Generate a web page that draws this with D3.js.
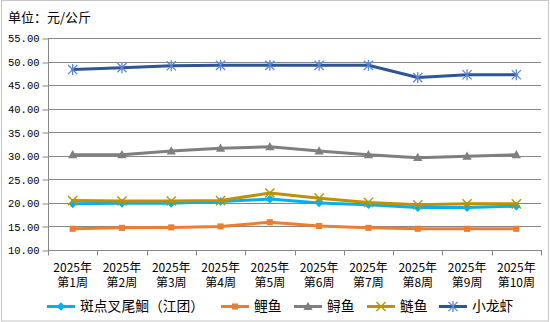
<!DOCTYPE html>
<html>
<head>
<meta charset="utf-8">
<script src="https://cdn.jsdelivr.net/npm/d3@7"></script>
<style>
  html, body { margin: 0; padding: 0; background: #fff; }
  svg { display: block; }
</style>
</head>
<body>
<script>
// Weekly prices (元/公斤), weeks 1–10 of 2025
const weeks = ["2025年|第1周", "2025年|第2周", "2025年|第3周", "2025年|第4周", "2025年|第5周",
               "2025年|第6周", "2025年|第7周", "2025年|第8周", "2025年|第9周", "2025年|第10周"];
const yTicks = [10, 15, 20, 25, 30, 35, 40, 45, 50, 55];

const channelCatfish = [19.8, 19.9, 19.9, 20.3, 20.8, 20.0, 19.6, 19.0, 19.0, 19.3];
const carp           = [14.5, 14.7, 14.8, 15.0, 15.9, 15.1, 14.7, 14.5, 14.5, 14.5];
const sturgeon       = [30.2, 30.2, 31.0, 31.6, 31.9, 31.0, 30.2, 29.6, 29.9, 30.2];
const silverCarp     = [20.5, 20.4, 20.4, 20.5, 22.1, 21.0, 20.1, 19.6, 19.8, 19.8];
const crayfish       = [48.3, 48.7, 49.1, 49.2, 49.2, 49.2, 49.2, 46.6, 47.2, 47.2];

const seriesNames = ["斑点叉尾鮰（江团）", "鲤鱼", "鲟鱼", "鲢鱼", "小龙虾"];
const seriesValues = [channelCatfish, carp, sturgeon, silverCarp, crayfish];
const lineColors = ["#00B0F0", "#ED7D31", "#7F7F7F", "#BF9000", "#2F5597"];
const markerColors = ["#00B0F0", "#ED7D31", "#7F7F7F", "#BF9000", "#5A86D6"];
const markerTypes = ["diamond", "square", "triangle", "cross", "asterisk"];

const W = 550, H = 322;
const plot = { left: 48, right: 541, top: 38, bottom: 250 };

const svg = d3.select("body").append("svg").attr("width", W).attr("height", H);

// outer chart frame
svg.append("rect")
  .attr("x", 1.5).attr("y", 0.5).attr("width", W - 3).attr("height", H - 1.5)
  .attr("fill", "#fff").attr("stroke", "#c4c4c4").attr("stroke-width", 1);

const x = d3.scaleBand().domain(weeks).range([plot.left, plot.right]).paddingInner(0).paddingOuter(0);
const y = d3.scaleLinear().domain([10, 55]).range([plot.bottom, plot.top]);

const gridColor = "#878787";

// horizontal gridlines
svg.append("g").selectAll("line")
  .data(yTicks.filter(v => v > 10))
  .join("line")
  .attr("x1", plot.left).attr("x2", plot.right)
  .attr("y1", d => Math.round(y(d)) + 0.5).attr("y2", d => Math.round(y(d)) + 0.5)
  .attr("stroke", gridColor).attr("stroke-width", 1);

// y axis
const yAxis = svg.append("g")
  .attr("transform", `translate(${plot.left + 0.5},0)`)
  .call(d3.axisLeft(y).tickValues(yTicks).tickSize(6).tickPadding(3).tickFormat(d3.format(".2f")));
yAxis.select(".domain").attr("stroke", gridColor).attr("d", `M0,${plot.top}V${plot.bottom + 0.5}`);
yAxis.selectAll(".tick line").attr("stroke", gridColor)
  .attr("transform", function(d) { return `translate(0,${Math.round(y(d)) + 0.5 - y(d)})`; });
yAxis.selectAll(".tick text")
  .attr("font-family", "'Liberation Mono', monospace")
  .attr("font-size", "10.5px").attr("fill", "#000")
  .attr("dy", "0.36em");

// x axis with ticks at category boundaries
const xg = svg.append("g").attr("transform", `translate(0,${plot.bottom + 0.5})`);
xg.append("line").attr("x1", plot.left).attr("x2", plot.right + 1)
  .attr("stroke", gridColor);
const bounds = weeks.map(w => x(w)).concat([x(weeks[weeks.length - 1]) + x.bandwidth()]);
xg.selectAll("line.tk").data(bounds).join("line").attr("class", "tk")
  .attr("x1", d => Math.round(d) + 0.5).attr("x2", d => Math.round(d) + 0.5)
  .attr("y1", 0).attr("y2", 5).attr("stroke", gridColor);
const xl = xg.selectAll("text").data(weeks).join("text")
  .attr("text-anchor", "middle")
  .attr("font-family", "'Noto Sans CJK SC', sans-serif")
  .attr("font-size", "12px").attr("fill", "#000")
  .attr("transform", d => `translate(${x(d) + x.bandwidth() / 2},0)`);
xl.append("tspan").attr("x", 0).attr("y", 21).text(d => d.split("|")[0]);
xl.append("tspan").attr("x", 0).attr("y", 36.5).text(d => d.split("|")[1]);

// unit label
svg.append("text").attr("x", 8).attr("y", 21.5)
  .attr("font-family", "'Noto Sans CJK SC', sans-serif")
  .attr("font-size", "13px").attr("fill", "#000")
  .text("单位：元/公斤");

function drawMarker(g, type, color, size) {
  const s = size;
  if (type === "diamond") {
    g.append("path").attr("d", `M0,${-s}L${s},0L0,${s}L${-s},0Z`).attr("fill", color);
  } else if (type === "square") {
    g.append("rect").attr("x", -s * 0.8).attr("y", -s * 0.8).attr("width", s * 1.6).attr("height", s * 1.6)
      .attr("fill", color);
  } else if (type === "triangle") {
    g.append("path").attr("d", `M0,${-s * 1.05}L${s},${s * 0.75}L${-s},${s * 0.75}Z`).attr("fill", color);
  } else if (type === "cross") {
    g.append("path").attr("d", `M${-s},${-s}L${s},${s}M${s},${-s}L${-s},${s}`)
      .attr("stroke", color).attr("stroke-width", 1.4).attr("fill", "none");
  } else if (type === "asterisk") {
    g.append("path").attr("d", `M${-s},${-s}L${s},${s}M${s},${-s}L${-s},${s}M0,${-s * 1.2}L0,${s * 1.2}`)
      .attr("stroke", color).attr("stroke-width", 1.3).attr("fill", "none");
  }
}

const markerSize = [4.3, 3.8, 4.6, 4.6, 4.6];

const line = d3.line()
  .x((d, i) => x(weeks[i]) + x.bandwidth() / 2)
  .y(d => y(d));

seriesValues.forEach((vals, s) => {
  const g = svg.append("g");
  g.append("path").datum(vals).attr("d", line)
    .attr("fill", "none").attr("stroke", lineColors[s]).attr("stroke-width", 3)
    .attr("stroke-linejoin", "round").attr("stroke-linecap", "round");
  vals.forEach((v, i) => {
    const mg = g.append("g").attr("transform", `translate(${x(weeks[i]) + x.bandwidth() / 2},${y(v)})`);
    drawMarker(mg, markerTypes[s], markerColors[s], markerSize[s]);
  });
});

// legend
const legendX = [47, 221, 294, 367, 439];
const legendY = 306.5;
seriesNames.forEach((name, s) => {
  const g = svg.append("g").attr("transform", `translate(${legendX[s]},${legendY})`);
  g.append("line").attr("x1", 0).attr("x2", 28).attr("y1", 0).attr("y2", 0)
    .attr("stroke", lineColors[s]).attr("stroke-width", 3);
  const mg = g.append("g").attr("transform", "translate(14,0)");
  drawMarker(mg, markerTypes[s], markerColors[s], markerSize[s]);
  g.append("text").attr("x", 33).attr("y", 0).attr("dy", "0.36em")
    .attr("font-family", "'Noto Sans CJK SC', sans-serif")
    .attr("font-size", "13.8px").attr("fill", "#000")
    .text(name);
});
</script>
</body>
</html>
